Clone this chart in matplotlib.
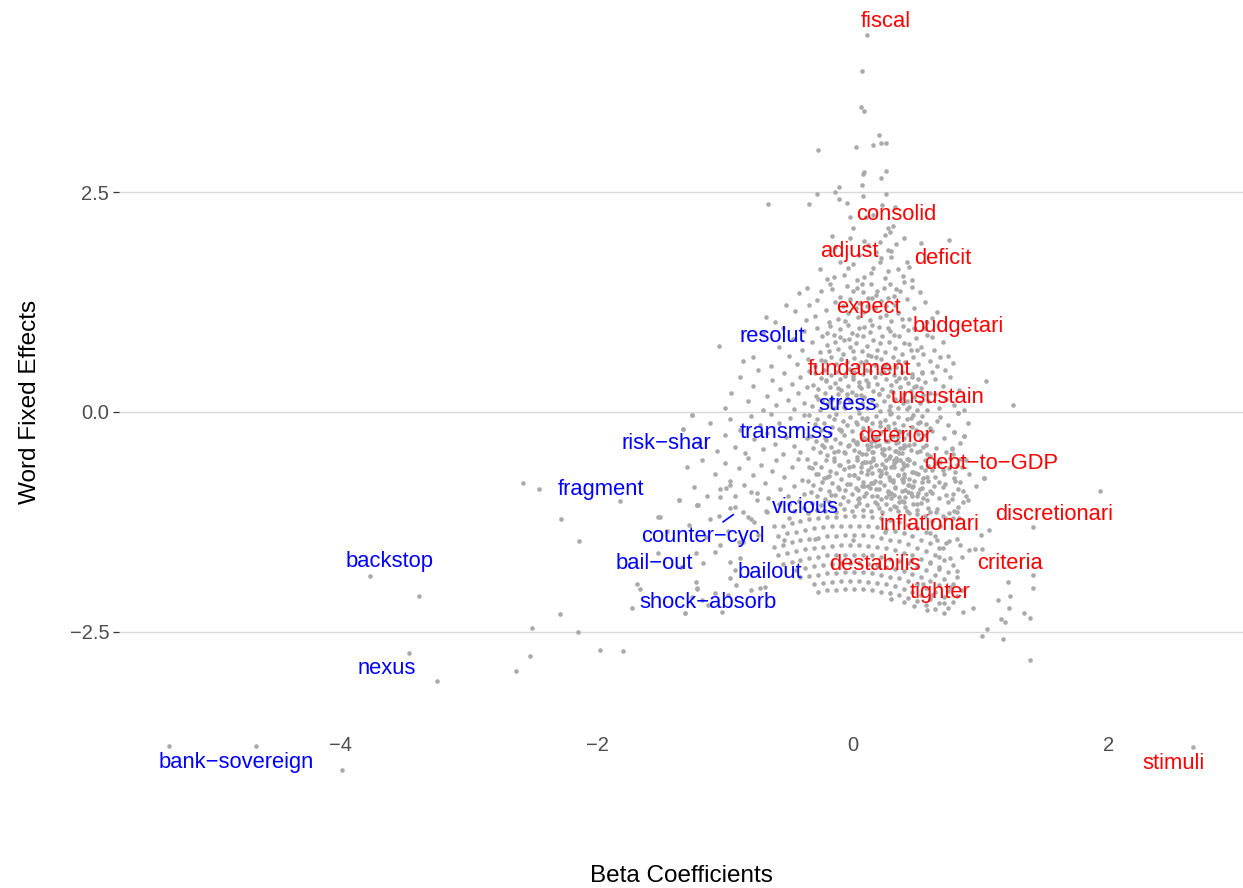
import matplotlib
matplotlib.use("Agg")
import matplotlib.pyplot as plt

plt.rcParams['font.family'] = ['Liberation Sans', 'DejaVu Sans']

# ---------------- data (beta coefficient, word fixed effect) ----------------
spike_x = [0.11, 0.07, 0.06, 0.09, 0.20, 0.16, 0.22, 0.26, 0.02, -0.27, 0.09, 0.08, 0.26, 0.22, 0.07,
           -0.11, -0.14, -0.28, 0.08, -0.11, 0.26, -0.66, -0.34, -0.05, 0.23, 0.33, 0.27, 0.29, 0.25, -0.16,
           0.00, 0.16, 0.31, 0.10, -0.02]
spike_y = [4.28, 3.87, 3.47, 3.42, 3.15, 3.03, 3.06, 3.06, 3.01, 2.98, 2.73, 2.70, 2.74, 2.66, 2.58,
           2.56, 2.50, 2.48, 2.45, 2.42, 2.48, 2.36, 2.36, 2.38, 2.35, 2.33, 2.09, 2.05, 2.01, 2.00,
           2.09, 2.24, 2.11, 2.22, 2.22]

far_x = [-3.77, -3.39, -3.47, -3.25, -5.34, -4.66, -3.99, 2.66, 1.93, -1.26, -1.33, -2.58, -2.45, -1.82, -1.36,
         -1.22, -2.28, -1.51, -2.14, -1.52, -1.34, -1.23, -1.69, -1.66, -1.22, -1.73, -1.31, -2.29, -2.51, -2.15,
         -2.52, -1.98, -1.80, -2.63]
far_y = [-1.86, -2.09, -2.74, -3.06, -3.80, -3.80, -4.07, -3.81, -0.90, -0.03, -0.19, -0.81, -0.88, -1.01, -1.00,
         -1.06, -1.22, -1.19, -1.47, -1.60, -1.76, -1.93, -1.95, -2.01, -2.01, -2.23, -2.29, -2.30, -2.45, -2.50,
         -2.77, -2.70, -2.72, -2.94]

right_x = [1.04, 1.25, 0.82, 0.79, 0.87, 0.77, 0.84, 1.02, 0.80, 0.77, 0.86, 0.78, 0.81, 1.06, 1.41,
           1.00, 0.84, 0.91, 0.95, 1.01, 0.85, 1.41, 1.41, 1.21, 1.23, 1.13, 1.22, 0.94, 0.86, 1.34,
           1.38, 1.16, 1.19, 1.05, 1.01, 1.17, 1.38,
           0.75, 0.73, 0.81, 0.76, 0.81, 0.67, 0.67, 0.76, 0.71, 0.55, 0.62, 0.48, 0.58, 0.40, 0.30, 0.70, 0.66, 0.60]
right_y = [0.35, 0.08, -0.01, -0.23, -0.27, -0.41, -0.53, -0.75, -0.78, -0.99, -1.02, -1.20, -1.14, -1.34, -1.31,
           -1.40, -1.51, -1.57, -1.56, -1.56, -1.65, -1.85, -2.00, -1.93, -2.09, -2.14, -2.23, -2.23, -2.27, -2.28,
           -2.34, -2.35, -2.39, -2.47, -2.55, -2.58, -2.82,
           -1.47, -1.49, -1.44, -1.66, -1.81, -1.65, -1.78, -1.99, -2.17, -1.95, -2.08, -2.20, -2.25, -2.16, -2.12,
           -1.55, -1.45, -1.38]

band_a = [(-0.02, 1.98), (0.09, 1.94), (0.21, 1.93), (0.12, 1.90), (0.30, 1.83), (0.34, 1.91), (0.22, 1.75),
          (-0.04, 1.64), (-0.26, 1.62), (0.53, 1.92), (0.75, 1.95), (0.27, 1.84), (0.21, 1.71), (0.30, 1.76),
          (0.42, 1.70), (0.16, 1.64), (0.44, 1.65), (0.27, 1.60), (0.39, 1.55), (0.25, 1.52), (0.46, 1.50),
          (-0.20, 1.51), (-0.15, 1.53), (-0.07, 1.56), (0.03, 1.50), (0.09, 1.53), (0.14, 1.58), (0.05, 1.78),
          (-0.10, 1.70), (0.35, 1.62), (0.18, 1.82), (-0.14, 1.87), (0.40, 1.98), (0.00, 1.68)]

band_b = [(-0.42, 1.35), (-0.36, 1.41), (-0.16, 1.40), (-0.05, 1.43), (0.03, 1.41), (-0.28, 1.27), (-0.34, 1.22),
          (-0.21, 1.16), (-0.68, 1.08), (-0.61, 1.02), (0.37, 1.37), (0.08, 1.36), (0.19, 1.38), (0.32, 1.32),
          (0.29, 1.45), (0.38, 1.06), (0.44, 1.06), (0.62, 1.07), (0.14, 1.46), (-0.10, 1.31), (-0.02, 1.28),
          (0.05, 1.24), (0.12, 1.29), (0.22, 1.26), (0.26, 1.20), (0.17, 1.18), (0.09, 1.14), (-0.08, 1.20),
          (-0.14, 1.25), (-0.25, 1.38), (0.00, 1.37), (0.24, 1.41), (0.42, 1.28), (0.48, 1.18), (0.52, 1.36),
          (0.35, 1.12), (0.30, 1.03), (0.21, 1.08), (0.13, 1.04), (0.04, 1.08), (-0.04, 1.12), (-0.12, 1.06),
          (-0.19, 1.02), (-0.30, 1.09), (-0.45, 1.15), (-0.52, 1.22), (0.56, 1.25), (0.66, 1.14), (0.46, 1.42),
          (0.11, 1.21), (0.18, 1.33), (-0.06, 1.03), (0.27, 1.30), (0.02, 1.18), (0.33, 1.22), (-0.18, 1.46),
          (0.07, 1.46), (0.40, 1.48), (-0.37, 1.04), (0.58, 1.02)]

band_c = [(-1.05, 0.75), (-0.86, 0.58), (-0.78, 0.62), (-0.70, 0.90), (-0.64, 0.52), (-0.58, 0.74), (-0.55, 0.96),
          (-0.50, 0.64), (-0.47, 0.83), (-0.44, 0.55), (-0.40, 0.70), (-0.38, 0.92), (-0.35, 0.60),
          (-0.32, 0.80), (-0.30, 0.52), (-0.28, 0.95), (-0.26, 0.68), (-0.24, 0.86), (-0.22, 0.58), (-0.20, 0.76),
          (-0.18, 0.98), (-0.17, 0.63), (-0.15, 0.88), (-0.13, 0.54), (-0.12, 0.72), (-0.10, 0.94), (-0.08, 0.66),
          (-0.07, 0.82), (-0.05, 0.57), (-0.04, 0.99), (-0.02, 0.74), (-0.01, 0.90), (0.01, 0.61), (0.02, 0.78),
          (0.04, 0.52), (0.05, 0.95), (0.07, 0.69), (0.08, 0.86), (0.10, 0.58), (0.11, 0.75), (0.13, 0.91),
          (0.14, 0.64), (0.16, 0.82), (0.17, 0.53), (0.19, 0.71), (0.20, 0.97), (0.22, 0.60), (0.23, 0.86),
          (0.25, 0.68), (0.26, 0.55), (0.28, 0.79), (0.29, 0.92), (0.31, 0.63), (0.33, 0.73), (0.34, 0.51),
          (0.36, 0.86), (0.38, 0.66), (0.40, 0.78), (0.41, 0.57), (0.43, 0.93), (0.45, 0.70), (0.47, 0.62),
          (0.49, 0.84), (0.51, 0.54), (0.53, 0.74), (0.55, 0.66), (0.58, 0.88), (0.60, 0.58), (0.63, 0.71),
          (0.66, 0.52), (0.70, 0.80), (0.74, 0.64), (0.78, 0.56),
          (-0.09, 0.60), (0.03, 0.88), (0.12, 0.65), (0.21, 0.78), (0.27, 0.95), (-0.19, 0.69), (0.35, 0.58),
          (0.09, 0.97), (-0.03, 0.83), (0.18, 0.62), (0.32, 0.88), (0.00, 0.69), (0.24, 0.52), (-0.14, 0.79),
          (0.15, 0.99), (0.06, 0.57), (0.39, 0.98), (-0.25, 0.59), (0.44, 0.77), (0.48, 0.96)]

band_d_edges = [(-1.00, 0.05), (-0.95, 0.22), (-0.88, 0.40), (-0.82, 0.12), (-0.78, 0.30), (-0.74, 0.48),
                (-0.70, 0.02), (-0.67, 0.18), (-0.63, 0.36), (-0.60, 0.08), (-0.57, 0.26), (-0.54, 0.44),
                (-0.51, 0.14), (-0.48, 0.32), (-0.46, 0.03), (-0.43, 0.22), (-0.41, 0.40), (-0.38, 0.10),
                (-0.36, 0.28), (-0.34, 0.47),
                (0.56, 0.34), (0.59, 0.12), (0.62, 0.45), (0.64, 0.21), (0.67, 0.04), (0.70, 0.30), (0.73, 0.15),
                (0.76, 0.40), (0.79, 0.08), (0.83, 0.25), (0.87, 0.02)]

band_d_x = [-0.32, -0.31, -0.30, -0.29, -0.27, -0.26, -0.25, -0.24, -0.23, -0.22, -0.21, -0.20, -0.18, -0.17,
            -0.16, -0.15, -0.14, -0.13, -0.12, -0.11, -0.10, -0.09, -0.07, -0.06, -0.05, -0.04, -0.03, -0.02,
            -0.01, 0.00, 0.01, 0.02, 0.04, 0.05, 0.06, 0.07, 0.08, 0.09, 0.10, 0.11, 0.12, 0.13, 0.15, 0.16,
            0.17, 0.18, 0.19, 0.20, 0.21, 0.22, 0.23, 0.24, 0.26, 0.27, 0.28, 0.29, 0.30, 0.31, 0.32, 0.33,
            0.34, 0.35, 0.37, 0.38, 0.39, 0.40, 0.41, 0.42, 0.43, 0.44, 0.45, 0.46, 0.48, 0.49, 0.50, 0.51,
            0.52, 0.53, 0.54, 0.55]
band_d_y = [0.07, 0.31, 0.44, 0.18, 0.26, 0.02, 0.39, 0.13, 0.48, 0.22, 0.35, 0.09, 0.28, 0.42, 0.15,
            0.04, 0.33, 0.46, 0.20, 0.11, 0.37, 0.25, 0.06, 0.41, 0.16, 0.30, 0.49, 0.12, 0.23, 0.38,
            0.45, 0.19, 0.03, 0.34, 0.27, 0.10, 0.43, 0.17, 0.36, 0.05, 0.29, 0.47, 0.14, 0.24, 0.40,
            0.08, 0.32, 0.21, 0.01, 0.44, 0.26, 0.12, 0.38, 0.18, 0.49, 0.07, 0.31, 0.23, 0.42, 0.15,
            0.35, 0.04, 0.28, 0.46, 0.10, 0.20, 0.39, 0.13, 0.33, 0.06, 0.24, 0.43, 0.17, 0.30, 0.02,
            0.37, 0.11, 0.27, 0.45, 0.19]

band_e_edges = [(-1.26, -0.03), (-1.33, -0.19), (-1.20, -0.35), (-1.12, -0.12), (-1.06, -0.44), (-1.00, -0.26),
                (-0.96, -0.08), (-0.92, -0.40), (-0.88, -0.20), (-0.84, -0.47), (-0.80, -0.05), (-0.77, -0.31),
                (-0.73, -0.15), (-0.70, -0.42), (-0.67, -0.24), (-0.64, -0.02), (-0.61, -0.36), (-0.58, -0.13),
                (-0.55, -0.48), (-0.52, -0.28), (-0.49, -0.07), (-0.46, -0.39), (-0.44, -0.18), (-0.41, -0.45),
                (-0.38, -0.03), (-0.36, -0.30),
                (0.62, -0.22), (0.65, -0.41), (0.68, -0.06), (0.71, -0.30), (0.74, -0.15), (0.77, -0.42),
                (0.79, -0.23), (0.82, -0.01), (0.84, -0.35), (0.87, -0.27), (0.90, -0.12), (0.73, -0.46)]

band_e_x = [-0.34, -0.33, -0.31, -0.30, -0.29, -0.28, -0.26, -0.25, -0.24, -0.23,
            -0.22, -0.20, -0.19, -0.18, -0.17, -0.16, -0.14, -0.13, -0.12, -0.11,
            -0.10, -0.08, -0.07, -0.06, -0.05, -0.04, -0.02, -0.01, 0.00, 0.01,
            0.02, 0.03, 0.05, 0.06, 0.07, 0.08, 0.09, 0.11, 0.12, 0.13,
            0.14, 0.15, 0.16, 0.18, 0.19, 0.20, 0.21, 0.22, 0.24, 0.25,
            0.26, 0.27, 0.28, 0.29, 0.31, 0.32, 0.33, 0.34, 0.35, 0.36,
            0.38, 0.39, 0.40, 0.41, 0.42, 0.43, 0.45, 0.46, 0.47, 0.48,
            0.49, 0.50, 0.52, 0.53, 0.54, 0.55, 0.56, 0.57, 0.58, 0.60,
            0.03, 0.10, 0.17, 0.23, 0.30, 0.37, 0.44, 0.51, -0.15, -0.09,
            -0.21, 0.07, 0.14, 0.27, 0.35]
band_e_y = [-0.03, -0.27, -0.41, -0.14, -0.33, -0.08, -0.46, -0.21, -0.37, -0.12,
            -0.29, -0.49, -0.05, -0.24, -0.40, -0.17, -0.31, -0.02, -0.44, -0.19,
            -0.35, -0.10, -0.26, -0.47, -0.15, -0.39, -0.06, -0.22, -0.32, -0.43,
            -0.11, -0.36, -0.01, -0.25, -0.48, -0.18, -0.30, -0.07, -0.42, -0.20,
            -0.34, -0.13, -0.45, -0.04, -0.28, -0.38, -0.16, -0.23, -0.49, -0.09,
            -0.33, -0.19, -0.41, -0.02, -0.27, -0.12, -0.44, -0.35, -0.06, -0.22,
            -0.47, -0.15, -0.30, -0.39, -0.08, -0.25, -0.43, -0.17, -0.03, -0.36,
            -0.21, -0.46, -0.11, -0.31, -0.05, -0.40, -0.26, -0.14, -0.48, -0.18,
            -0.34, -0.09, -0.29, -0.42, -0.01, -0.23, -0.37, -0.13, -0.45, -0.20,
            -0.32, -0.07, -0.39, -0.16, -0.28]

band_f_edges = [(-1.30, -0.62), (-1.24, -0.85), (-1.18, -0.55), (-1.14, -0.96), (-1.08, -0.70), (-1.04, -0.88),
                (-1.00, -0.58), (-0.96, -0.78), (-0.92, -0.95), (-0.89, -0.64), (-0.85, -0.83), (-0.82, -0.52),
                (-0.78, -0.72), (-0.75, -0.92), (-0.72, -0.60), (-0.69, -0.81), (-0.66, -0.98), (-0.63, -0.67),
                (-0.60, -0.55), (-0.57, -0.88), (-0.54, -0.74), (-0.51, -0.96), (-0.48, -0.62), (-0.46, -0.84),
                (-0.43, -0.53), (-0.40, -0.77), (-0.38, -0.93),
                (0.64, -0.58), (0.67, -0.80), (0.70, -0.66), (0.73, -0.94), (0.76, -0.52), (0.79, -0.75),
                (0.80, -0.68), (0.82, -0.88), (0.85, -0.62), (0.88, -0.96), (0.91, -0.70), (0.96, -0.84),
                (1.02, -0.75)]

band_f_x = [-0.36, -0.35, -0.33, -0.32, -0.31, -0.30, -0.28, -0.27, -0.26, -0.25,
            -0.24, -0.22, -0.21, -0.20, -0.19, -0.18, -0.16, -0.15, -0.14, -0.13,
            -0.12, -0.10, -0.09, -0.08, -0.07, -0.06, -0.04, -0.03, -0.02, -0.01,
            0.00, 0.02, 0.03, 0.04, 0.05, 0.06, 0.08, 0.09, 0.10, 0.11,
            0.12, 0.14, 0.15, 0.16, 0.17, 0.18, 0.20, 0.21, 0.22, 0.23,
            0.24, 0.26, 0.27, 0.28, 0.29, 0.30, 0.32, 0.33, 0.34, 0.35,
            0.36, 0.38, 0.39, 0.40, 0.41, 0.42, 0.44, 0.45, 0.46, 0.47,
            0.48, 0.50, 0.51, 0.52, 0.53, 0.54, 0.56, 0.57, 0.58, 0.60,
            0.62, 0.01, 0.07, 0.13, 0.19, 0.25, 0.31, 0.37, 0.43, 0.49,
            -0.05, -0.11, -0.17, -0.23, 0.55, 0.04, 0.10, 0.16, 0.22, 0.28,
            0.34, 0.40, 0.46, -0.29, -0.34, 0.59, 0.18, 0.09, 0.26, 0.32]
band_f_y = [-0.53, -0.78, -0.91, -0.64, -0.83, -0.58, -0.96, -0.71, -0.87, -0.62,
            -0.79, -0.99, -0.55, -0.74, -0.90, -0.67, -0.81, -0.52, -0.94, -0.69,
            -0.85, -0.60, -0.76, -0.97, -0.65, -0.89, -0.56, -0.72, -0.82, -0.93,
            -0.61, -0.86, -0.51, -0.75, -0.98, -0.68, -0.80, -0.57, -0.92, -0.70,
            -0.84, -0.63, -0.95, -0.54, -0.78, -0.88, -0.66, -0.73, -0.99, -0.59,
            -0.83, -0.69, -0.91, -0.52, -0.77, -0.62, -0.94, -0.85, -0.56, -0.72,
            -0.97, -0.65, -0.80, -0.61, -0.89, -0.53, -0.76, -0.92, -0.68, -0.84,
            -0.58, -0.96, -0.71, -0.87, -0.63, -0.79, -0.55, -0.93, -0.74, -0.90,
            -0.66, -0.72, -0.58, -0.86, -0.95, -0.63, -0.77, -0.54, -0.91, -0.69,
            -0.82, -0.60, -0.94, -0.75, -0.98, -0.89, -0.57, -0.81, -0.67, -0.93,
            -0.52, -0.74, -0.85, -0.70, -0.62, -0.78, -0.60, -0.84, -0.97, -0.55]

core_x = [0.02, 0.06, 0.10, 0.14, 0.18, 0.22, 0.26, 0.30, 0.34, 0.38, 0.42,
          0.04, 0.08, 0.12, 0.16, 0.20, 0.24, 0.28, 0.32, 0.36, 0.40, 0.44,
          0.01, 0.05, 0.09, 0.13, 0.17, 0.21, 0.25, 0.29, 0.33, 0.37, 0.41,
          0.03, 0.07, 0.11, 0.15, 0.19, 0.23, 0.27, 0.31, 0.35, 0.39, 0.43,
          -0.03, -0.07, -0.11, -0.15, -0.19, -0.23]
core_y = [-0.35, -0.62, -0.48, -0.81, -0.39, -0.70, -0.55, -0.92, -0.44, -0.76,
          -0.60, -0.99, -0.31, -0.66, -0.52, -0.88, -0.42, -0.74, -0.58, -1.02,
          -0.37, -0.83, -0.72, -0.46, -0.95, -0.57, -0.33, -0.79, -0.64, -0.50,
          -0.86, -0.41, -0.97, -0.54, -0.84, -0.38, -0.69, -1.05, -0.47, -0.90,
          -0.61, -0.34, -0.77, -0.53, -0.63, -0.45, -0.87, -0.56, -0.73, -0.40]

core_upper = [(-0.18, 0.12), (-0.12, 0.27), (-0.06, 0.05), (0.00, 0.41), (0.06, 0.19), (0.12, 0.33), (0.18, 0.08),
              (0.24, 0.45), (0.30, 0.24), (0.36, 0.39), (0.42, 0.03), (0.48, 0.28), (-0.15, -0.08), (-0.09, -0.22),
              (-0.03, -0.38), (0.03, -0.14), (0.09, -0.29), (0.15, -0.45), (0.21, -0.11), (0.27, -0.33),
              (0.33, -0.19), (0.39, -0.41), (0.45, -0.07), (0.51, -0.25), (0.57, -0.37), (-0.21, 0.36),
              (-0.27, 0.15), (0.54, 0.44), (0.60, 0.22), (0.64, 0.37), (0.68, 0.62), (0.72, 0.48), (0.62, 0.85),
              (0.56, 0.95), (0.50, 0.70), (-0.10, 0.85), (-0.20, 0.90), (0.26, 1.10), (0.34, 1.40), (0.15, 1.30),
              (0.05, 0.30), (0.10, 0.48), (0.20, 0.20), (0.28, 0.02), (0.38, 0.16), (-0.05, 0.20), (0.46, 0.40),
              (0.52, 0.10), (0.58, 0.02), (0.66, -0.10)]

core_right = [(0.30, -0.98), (0.34, -1.08), (0.38, -0.90), (0.42, -1.12), (0.46, -0.95), (0.50, -1.05),
              (0.54, -0.86), (0.58, -1.00), (0.62, -0.92), (0.66, -1.10), (0.70, -0.85), (0.74, -1.02),
              (0.78, -0.93), (0.82, -1.08), (0.86, -0.90), (0.32, -0.62), (0.36, -0.47), (0.40, -0.70),
              (0.44, -0.55), (0.48, -0.78), (0.52, -0.44), (0.56, -0.66), (0.60, -0.50), (0.64, -0.74),
              (0.68, -0.57), (0.72, -0.82), (0.75, -0.64), (0.78, -0.48), (0.81, -0.60), (0.84, -0.79),
              (0.88, -0.55), (0.90, -1.00), (0.31, -0.80), (0.35, -0.72), (0.39, -0.58), (0.43, -0.83),
              (0.47, -0.68), (0.51, -0.92), (0.55, -0.75), (0.59, -0.61), (0.63, -0.84), (0.67, -0.98),
              (0.71, -0.70), (0.75, -1.15), (0.79, -1.12), (0.83, -1.20), (0.70, -1.18), (0.60, -1.14),
              (0.50, -1.16), (0.40, -1.02)]

band_g_x = [-0.50, -0.46, -0.42, -0.38, -0.35, -0.32, -0.28, -0.25, -0.22, -0.19, -0.16, -0.13, -0.10, -0.07,
            -0.04, -0.01, 0.02, 0.05, 0.08, 0.11, 0.14, 0.17, 0.20, 0.23, 0.26, 0.29, 0.32, 0.35, 0.38, 0.41,
            0.44, 0.47, 0.50, 0.53, 0.56, 0.59, 0.62, 0.65, 0.68, 0.72, -0.30, 0.00, 0.25, 0.45, 0.60,
            -1.45, -1.28, -1.15, -1.05, -0.98, -0.92, -0.86, -0.80, -0.74, -0.68, -0.62, -0.58, -0.54, -0.50,
            -1.36, -1.22]
band_g_y = [-1.04, -1.12, -1.01, -1.09, -1.15, -1.03, -1.11, -1.06, -1.13, -1.02, -1.08, -1.14, -1.05, -1.10,
            -1.01, -1.12, -1.07, -1.03, -1.11, -1.06, -1.13, -1.02, -1.09, -1.14, -1.04, -1.10, -1.07, -1.12,
            -1.01, -1.08, -1.15, -1.05, -1.11, -1.03, -1.18, -1.09, -1.24, -1.14, -1.29, -1.20, -1.44, -1.46,
            -1.36, -1.68, -1.72,
            -1.35, -1.28, -1.42, -1.18, -1.35, -1.08, -1.48, -1.22, -1.40, -1.12, -1.30, -1.04, -1.45, -1.20,
            -1.00, -1.06]

lowleft_x = [-1.12, -1.21, -1.52, -1.04, -0.99, -0.96, -0.96, -0.80, -0.75, -0.67, -0.86, -0.82, -0.77, -0.89,
             -1.04, -1.08, -1.23, -1.17, -0.96, -0.88, -0.92, -0.96, -0.91, -0.80, -0.73, -0.69, -0.98, -1.08,
             -1.22, -1.18, -1.13, -1.31, -1.02, -1.26]
lowleft_y = [-1.22, -1.06, -1.19, -0.97, -0.86, -0.83, -1.09, -0.91, -1.00, -1.14, -1.14, -1.19, -1.25, -1.48,
             -1.51, -1.59, -1.60, -1.72, -1.70, -1.66, -1.80, -1.89, -1.97, -2.02, -2.00, -1.99, -2.08, -2.06,
             -2.00, -2.14, -2.19, -2.28, -2.27, -2.10]

# curved rows of points at the bottom of the cloud
arc1_x = [-0.55, -0.48, -0.41, -0.34, -0.27, -0.20, -0.13, -0.06, 0.01, 0.08, 0.15, 0.22, 0.29, 0.36, 0.43, 0.50, 0.57, 0.64]
arc1_y = [-1.29, -1.26, -1.24, -1.22, -1.21, -1.19, -1.19, -1.18, -1.18, -1.18, -1.19, -1.21, -1.23, -1.25, -1.28, -1.32, -1.36, -1.41]
arc2_x = [-0.585, -0.515, -0.445, -0.375, -0.305, -0.235, -0.165, -0.095, -0.025, 0.045, 0.115, 0.185, 0.255, 0.325, 0.395, 0.465, 0.535, 0.605, 0.675]
arc2_y = [-1.41, -1.38, -1.36, -1.34, -1.32, -1.31, -1.30, -1.29, -1.29, -1.29, -1.30, -1.31, -1.33, -1.35, -1.38, -1.41, -1.45, -1.49, -1.54]
arc3_x = [-0.62, -0.55, -0.48, -0.41, -0.34, -0.27, -0.20, -0.13, -0.06, 0.01, 0.08, 0.15, 0.22, 0.29, 0.36, 0.43, 0.50, 0.57, 0.64, 0.71, 0.78]
arc3_y = [-1.53, -1.51, -1.48, -1.46, -1.44, -1.43, -1.41, -1.41, -1.40, -1.40, -1.40, -1.41, -1.43, -1.45, -1.47, -1.50, -1.54, -1.58, -1.63, -1.68, -1.74]
arc4_x = [-0.585, -0.515, -0.445, -0.375, -0.305, -0.235, -0.165, -0.095, -0.025, 0.045, 0.115, 0.185, 0.255, 0.325, 0.395, 0.465, 0.535, 0.605, 0.675, 0.745, 0.815]
arc4_y = [-1.63, -1.60, -1.58, -1.56, -1.54, -1.53, -1.52, -1.51, -1.51, -1.51, -1.52, -1.53, -1.55, -1.57, -1.60, -1.63, -1.67, -1.71, -1.76, -1.82, -1.88]
arc5_x = [-0.55, -0.48, -0.41, -0.34, -0.27, -0.20, -0.13, -0.06, 0.01, 0.08, 0.15, 0.22, 0.29, 0.36, 0.43, 0.50, 0.57, 0.64, 0.71, 0.78, 0.85]
arc5_y = [-1.73, -1.70, -1.68, -1.66, -1.65, -1.63, -1.63, -1.62, -1.62, -1.62, -1.63, -1.65, -1.67, -1.69, -1.72, -1.76, -1.80, -1.85, -1.90, -1.96, -2.02]
arc6_x = [-0.445, -0.375, -0.305, -0.235, -0.165, -0.095, -0.025, 0.045, 0.115, 0.185, 0.255, 0.325, 0.395, 0.465, 0.535, 0.605, 0.675, 0.745, 0.815]
arc6_y = [-1.79, -1.77, -1.75, -1.74, -1.73, -1.72, -1.72, -1.72, -1.73, -1.74, -1.76, -1.78, -1.81, -1.84, -1.88, -1.92, -1.97, -2.03, -2.09]
arc7_x = [-0.41, -0.34, -0.27, -0.20, -0.13, -0.06, 0.01, 0.08, 0.15, 0.22, 0.29, 0.36, 0.43, 0.50, 0.57, 0.64, 0.71, 0.78]
arc7_y = [-1.88, -1.86, -1.85, -1.83, -1.83, -1.82, -1.82, -1.82, -1.83, -1.85, -1.87, -1.89, -1.92, -1.96, -2.00, -2.05, -2.10, -2.16]
arc8_x = [-0.305, -0.235, -0.165, -0.095, -0.025, 0.045, 0.115, 0.185, 0.255, 0.325, 0.395, 0.465, 0.535, 0.605, 0.675, 0.745]
arc8_y = [-1.95, -1.94, -1.93, -1.92, -1.92, -1.92, -1.93, -1.94, -1.96, -1.98, -2.01, -2.04, -2.08, -2.12, -2.17, -2.23]
arc9_x = [-0.27, -0.20, -0.13, -0.06, 0.01, 0.08, 0.15, 0.22, 0.29, 0.36, 0.43, 0.50, 0.57, 0.64, 0.71]
arc9_y = [-2.04, -2.02, -2.02, -2.01, -2.01, -2.01, -2.02, -2.04, -2.06, -2.08, -2.11, -2.15, -2.19, -2.24, -2.29]

# labelled words
label_words = ['fiscal', 'consolid', 'adjust', 'deficit', 'expect', 'budgetari', 'resolut', 'fundament',
               'unsustain', 'stress', 'transmiss', 'deterior', 'risk-shar', 'debt-to-GDP', 'fragment',
               'vicious', 'discretionari', 'inflationari', 'counter-cycl', 'backstop', 'bail-out',
               'destabilis', 'criteria', 'bailout', 'tighter', 'shock-absorb', 'nexus', 'bank-sovereign',
               'stimuli']
label_x = [0.26, 0.34, -0.03, 0.70, 0.12, 0.82, -0.63, 0.05, 0.66, -0.04, -0.52, 0.33, -1.46, 1.08, -1.97,
           -0.37, 1.57, 0.60, -1.17, -3.62, -1.55, 0.17, 1.23, -0.65, 0.68, -1.13, -3.64, -4.82, 2.50]
label_y = [4.44, 2.25, 1.82, 1.75, 1.19, 0.97, 0.86, 0.48, 0.16, 0.09, -0.23, -0.28, -0.36, -0.59, -0.88,
           -1.09, -1.16, -1.28, -1.41, -1.70, -1.72, -1.73, -1.72, -1.82, -2.05, -2.17, -2.91, -3.98, -3.99]
label_side = ['pos', 'pos', 'pos', 'pos', 'pos', 'pos', 'neg', 'pos', 'pos', 'neg', 'neg', 'pos', 'neg', 'pos',
              'neg', 'neg', 'pos', 'pos', 'neg', 'neg', 'neg', 'pos', 'pos', 'neg', 'pos', 'neg', 'neg', 'neg',
              'pos']
# word whose label is joined to its point by a segment
segment_word = 'counter-cycl'
segment_point = (-0.91, -1.14)

y_ticks = [-2.5, 0.0, 2.5]
y_ticklabels = ['\u22122.5', '0.0', '2.5']
x_ticks = [-4, -2, 0, 2]
x_ticklabels = ['\u22124', '\u22122', '0', '2']

# ---------------- plotting ----------------
W, H = 1243, 888
fig = plt.figure(figsize=(W / 100, H / 100), dpi=100)
ax = fig.add_axes([119 / W, (H - 807) / H, (W - 119) / W, 807 / H])


def split(pairs):
    return [p[0] for p in pairs], [p[1] for p in pairs]


point_color = '#AAAAAA'
groups = [
    (spike_x, spike_y), (far_x, far_y), (right_x, right_y),
    split(band_a), split(band_b), split(band_c), split(band_d_edges), (band_d_x, band_d_y),
    split(band_e_edges), (band_e_x, band_e_y), split(band_f_edges), (band_f_x, band_f_y),
    (core_x, core_y), split(core_upper), split(core_right), (band_g_x, band_g_y), (lowleft_x, lowleft_y),
    (arc1_x, arc1_y), (arc2_x, arc2_y), (arc3_x, arc3_y), (arc4_x, arc4_y), (arc5_x, arc5_y),
    (arc6_x, arc6_y), (arc7_x, arc7_y), (arc8_x, arc8_y), (arc9_x, arc9_y),
]
for gx, gy in groups:
    n = min(len(gx), len(gy))
    ax.scatter(gx[:n], gy[:n], s=11, color=point_color, linewidths=0, zorder=2, clip_on=False)

colors = {'pos': '#FF0000', 'neg': '#0000FF'}
for w, lx, ly, side in zip(label_words, label_x, label_y, label_side):
    ax.text(lx, ly, w.replace('-', '\u2212'), color=colors[side], fontsize=15.8,
            ha='center', va='center', zorder=4)
    if w == segment_word:
        px, py = segment_point
        ax.plot([lx + 0.6 * (px - lx), lx + 0.9 * (px - lx)],
                [ly + 0.6 * (py - ly), ly + 0.9 * (py - ly)],
                color=colors[side], lw=1.2, zorder=3)

ax.set_xlim(-5.734, 3.047)
ax.set_ylim(-4.489, 4.682)
ax.set_yticks(y_ticks)
ax.set_yticklabels(y_ticklabels)
ax.set_xticks(x_ticks)
ax.set_xticklabels(x_ticklabels)
ax.grid(False)
ax.yaxis.grid(True, color='#DADADA', lw=1.0, zorder=0)
ax.set_axisbelow(True)
for s in ax.spines.values():
    s.set_visible(False)
ax.tick_params(axis='y', length=4.5, width=0.9, color='#333333', labelcolor='#4D4D4D',
               labelsize=14.5, pad=2.5)
ax.tick_params(axis='x', length=0, labelcolor='#4D4D4D', labelsize=14.5, pad=-51)

fig.text(681 / W, 1 - 876 / H, 'Beta Coefficients', fontsize=17.5, ha='center', va='center', color='black')
fig.text(30 / W, 1 - 402 / H, 'Word Fixed Effects', fontsize=17.5, ha='center', va='center',
         rotation=90, color='black')

fig.savefig('out.png', dpi=100)
